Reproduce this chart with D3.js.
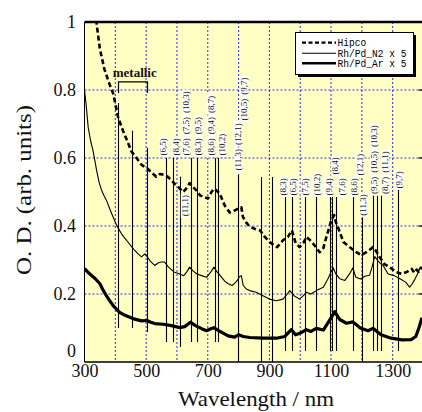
<!DOCTYPE html>
<html><head><meta charset="utf-8">
<script src="https://cdn.jsdelivr.net/npm/d3@7"></script>
<style>body{margin:0;background:#fff}svg{display:block}</style>
</head><body>
<svg id="c" width="422" height="412"></svg>
<script>
// ---------------- data ----------------
const hipcoNm = [335,340,350,365,380,393,409,425,441,452,469,485,503,520,533,545,560,570,582,595,604,620,630,641,652,663,675,685,701,712,720,728,739,755,771,780,790,800,809,814,825,836,852,870,885,901,915,925,944,960,973,985,998,1010,1020,1030,1042,1063,1075,1085,1101,1110,1116,1124,1140,1160,1182,1198,1215,1230,1236,1245,1258,1273,1290,1310,1330,1346,1362,1370,1378,1385,1395];
const hipcoOD = [1.03,0.99,0.92,0.86,0.82,0.79,0.72,0.68,0.645,0.62,0.60,0.58,0.57,0.555,0.545,0.553,0.55,0.545,0.535,0.522,0.515,0.50,0.51,0.526,0.515,0.505,0.49,0.486,0.481,0.50,0.51,0.505,0.495,0.46,0.44,0.442,0.447,0.452,0.455,0.427,0.41,0.398,0.392,0.387,0.368,0.353,0.343,0.338,0.358,0.368,0.387,0.35,0.338,0.35,0.368,0.36,0.348,0.323,0.335,0.368,0.417,0.432,0.41,0.393,0.353,0.338,0.323,0.314,0.323,0.333,0.338,0.328,0.308,0.288,0.279,0.265,0.259,0.265,0.274,0.262,0.272,0.265,0.28];

const n2Nm = [300,305,312,320,328,333,339,347,355,363,371,380,388,396,404,412,420,430,441,452,463,474,485,496,503,515,528,540,550,560,572,590,605,622,632,641,652,665,680,696,710,720,730,740,755,766,779,788,796,802,809,815,825,836,857,879,900,923,944,958,966,980,998,1010,1020,1035,1052,1075,1090,1100,1107,1115,1128,1145,1160,1171,1180,1195,1210,1225,1233,1242,1250,1260,1269,1285,1305,1325,1342,1355,1362,1370,1380,1390];
const n2OD = [0.80,0.76,0.69,0.65,0.62,0.595,0.565,0.53,0.506,0.49,0.476,0.455,0.437,0.42,0.402,0.39,0.377,0.365,0.353,0.34,0.328,0.318,0.309,0.318,0.31,0.295,0.284,0.292,0.294,0.294,0.28,0.265,0.26,0.254,0.265,0.279,0.268,0.259,0.254,0.249,0.265,0.279,0.265,0.255,0.238,0.23,0.225,0.232,0.24,0.25,0.254,0.225,0.215,0.21,0.205,0.195,0.185,0.18,0.185,0.2,0.21,0.195,0.185,0.195,0.205,0.2,0.21,0.22,0.245,0.265,0.277,0.26,0.245,0.24,0.259,0.277,0.25,0.244,0.252,0.255,0.279,0.31,0.30,0.29,0.284,0.259,0.254,0.244,0.235,0.22,0.228,0.24,0.258,0.28];

const arNm = [300,310,322,335,350,360,371,382,393,404,414,430,441,463,485,503,515,528,555,582,609,625,644,660,680,696,710,720,735,750,766,787,800,815,836,879,923,950,960,971,985,1000,1020,1035,1052,1075,1096,1112,1128,1150,1171,1195,1220,1236,1262,1295,1330,1360,1375,1385,1395];
const arOD = [0.275,0.265,0.255,0.245,0.23,0.212,0.195,0.18,0.166,0.155,0.146,0.138,0.134,0.126,0.121,0.122,0.117,0.113,0.111,0.107,0.101,0.104,0.117,0.107,0.098,0.092,0.098,0.101,0.092,0.085,0.077,0.073,0.08,0.075,0.072,0.07,0.07,0.075,0.085,0.095,0.08,0.085,0.095,0.09,0.099,0.094,0.124,0.148,0.125,0.114,0.118,0.10,0.092,0.099,0.08,0.07,0.065,0.066,0.075,0.10,0.13];

// assignment lines (wavelength, upper and lower O.D. ends)
const assignNm     = [409,455,504,563,586,610,644,665,722,732,797,872,909,951,974,1017,1050,1097,1104,1116,1172,1199,1237,1248,1262,1318];
const assignTop    = [0.762,0.68,0.63,0.60,0.60,0.545,0.60,0.60,0.60,0.60,0.55,0.544,0.544,0.485,0.485,0.485,0.485,0.485,0.485,0.485,0.485,0.426,0.49,0.49,0.49,0.506];
const assignBottom = [0.10,0.10,0.088,0.059,0.059,0.044,0.059,0.059,0.059,0.059,0,0,0,0.032,0.032,0.032,0.032,0.032,0.032,0.032,0.032,0,0.032,0.032,0.032,0.032];

// chirality label columns: wavelength, O.D. of column base, names bottom-up
const labelNm   = [556,597,626,629,668,709,746,798,817,944,976,1015,1053,1092,1114,1134,1173,1194,1205,1239,1275,1319];
const labelBase = [0.603,0.603,0.424,0.603,0.603,0.603,0.603,0.559,0.706,0.485,0.485,0.485,0.485,0.485,0.547,0.485,0.485,0.544,0.426,0.49,0.49,0.506];
const labelNames = [["(6,5)"],["(8,4)"],["(11,1)"],["(7,6)","(7,5)","(10,3)"],["(8,3)","(9,5)"],["(8,6)","(9,4)","(8,7)"],["(10,2)"],["(11,3)","(12,1)"],["(10,5)","(9,7)"],
  ["(8,3)"],["(6,5)"],["(7,5)"],["(10,2)"],["(9,4)"],["(8,4)"],["(7,6)"],["(8,6)"],["(12,1)"],["(11,3)"],["(9,5)","(10,5)","(10,3)"],["(8,7)","(11,1)"],["(9,7)"]];

const metallicNm = [409,504];
const metallicOD = [0.791,0.824];

const xTicks = [300,500,700,900,1100,1300];
const xGrid = [400,500,600,700,800,900,1000,1100,1200,1300];
const yTicks = [0,0.2,0.4,0.6,0.8,1];
const yTickLabels = ["0","0.2","0.4","0.6","0.8","1"];
const yGrid = [0.2,0.4,0.6,0.8];
const legendNames = ["Hipco","Rh/Pd_N2 x 5","Rh/Pd_Ar x 5"];

// ---------------- drawing ----------------
const svg = d3.select("#c");
const L = 84.5, R = 423.5, T = 22, B = 362;
const x = d3.scaleLinear().domain([300,1400]).range([L,R]);
const y = d3.scaleLinear().domain([0,1]).range([B,T]);
const serif = "'Liberation Serif','Times New Roman',serif";

svg.append("defs").append("clipPath").attr("id","clip")
  .append("rect").attr("x",L).attr("y",T).attr("width",R-L).attr("height",B-T);

svg.append("rect").attr("x",L).attr("y",T).attr("width",R-L).attr("height",B-T).attr("fill","#FFFFC4");

const plot = svg.append("g").attr("clip-path","url(#clip)");

// grid
plot.selectAll(".gx").data(xGrid).enter().append("line")
  .attr("x1",d=>x(d)).attr("x2",d=>x(d)).attr("y1",T).attr("y2",B)
  .attr("stroke","#2a2aff").attr("stroke-width",1).attr("stroke-dasharray","2,2");
plot.selectAll(".gy").data(yGrid).enter().append("line")
  .attr("x1",L).attr("x2",R).attr("y1",d=>y(d)).attr("y2",d=>y(d))
  .attr("stroke","#2a2aff").attr("stroke-width",1).attr("stroke-dasharray","2,2");

// assignment lines
plot.selectAll(".as").data(assignNm).enter().append("line")
  .attr("x1",d=>Math.round(x(d))+0.5).attr("x2",d=>Math.round(x(d))+0.5)
  .attr("y1",(d,i)=>y(assignTop[i])).attr("y2",(d,i)=>y(assignBottom[i]))
  .attr("stroke","#000").attr("stroke-width",1.1);

// curves
const line = d3.line().x(d=>x(d[0])).y(d=>y(d[1]));
const ser = [
  {nm:arNm, od:arOD, w:3.2, dash:null},
  {nm:n2Nm, od:n2OD, w:1.1, dash:null},
  {nm:hipcoNm, od:hipcoOD, w:2.6, dash:"5,3"}
];
ser.forEach(s=>{
  plot.append("path").datum(s.nm.map((v,i)=>[v,s.od[i]]))
    .attr("d",line).attr("fill","none").attr("stroke","#000")
    .attr("stroke-width",s.w).attr("stroke-linejoin","round")
    .attr("stroke-dasharray",s.dash);
});

// chirality labels
const lab = svg.append("g");
labelNm.forEach((nm,i)=>{
  let yb = y(labelBase[i]);
  const cx = x(nm);
  labelNames[i].forEach(name=>{
    const g = lab.append("g");
    const r = g.append("rect");
    const t = g.append("text").text(name)
      .attr("font-family",serif).attr("font-size",9).attr("fill","#111")
      .attr("text-anchor","middle");
    const len = t.node().getComputedTextLength();
    const h = len + 3;
    const cy = yb - h/2;
    t.attr("transform",`translate(${cx+3},${cy}) rotate(-90)`);
    r.attr("x",cx-4.2).attr("y",yb-h).attr("width",8.4).attr("height",h).attr("fill","#fff");
    yb -= h + 1;
  });
});

// metallic bracket
svg.append("path")
  .attr("d",`M${Math.round(x(metallicNm[0]))+0.5},${y(metallicOD[0])}V${y(metallicOD[1])}H${Math.round(x(metallicNm[1]))+0.5}V${y(metallicOD[0])}`)
  .attr("fill","none").attr("stroke","#000").attr("stroke-width",1.2);
svg.append("text").text("metallic")
  .attr("x",(x(metallicNm[0])+x(metallicNm[1]))/2+2).attr("y",y(metallicOD[1])-5)
  .attr("text-anchor","middle").attr("font-family",serif).attr("font-weight","bold").attr("font-size",13).attr("fill","#111");

// frame
svg.append("line").attr("x1",L).attr("x2",R).attr("y1",T).attr("y2",T).attr("stroke","#000").attr("stroke-width",2.5);
svg.append("line").attr("x1",L).attr("x2",R).attr("y1",B).attr("y2",B).attr("stroke","#000").attr("stroke-width",1.5);
svg.append("line").attr("x1",L).attr("x2",L).attr("y1",T).attr("y2",B).attr("stroke","#000").attr("stroke-width",1);
svg.append("line").attr("x1",R).attr("x2",R).attr("y1",T).attr("y2",B).attr("stroke","#000").attr("stroke-width",1);
svg.selectAll(".rt").data(yGrid).enter().append("line")
  .attr("x1",R-5).attr("x2",R).attr("y1",d=>y(d)).attr("y2",d=>y(d)).attr("stroke","#000").attr("stroke-width",1.2);

// axes
const ya = svg.append("g").attr("transform",`translate(${L},0)`)
  .call(d3.axisLeft(y).tickValues(yTicks).tickFormat((d,i)=>yTickLabels[i]).tickSize(0).tickPadding(8.5));
ya.select(".domain").remove();
ya.selectAll("text").attr("font-family",serif).attr("font-size",18).attr("fill","#111")
  .attr("dy",d=>d===0?"-0.3em":"0.32em");

const xa = svg.append("g").attr("transform",`translate(0,${B})`)
  .call(d3.axisBottom(x).tickValues(xTicks).tickFormat(d3.format("d")).tickSize(0).tickPadding(2));
xa.select(".domain").remove();
xa.selectAll("text").attr("font-family",serif).attr("font-size",18).attr("fill","#111");

svg.append("text").text("Wavelength / nm").attr("x",256).attr("y",406)
  .attr("text-anchor","middle").attr("font-family",serif).attr("font-size",22).attr("fill","#111")
  .attr("textLength",156).attr("lengthAdjust","spacingAndGlyphs");
svg.append("text").text("O. D. (arb. units)")
  .attr("transform",`translate(31,190) rotate(-90)`)
  .attr("text-anchor","middle").attr("font-family",serif).attr("font-size",22).attr("fill","#111")
  .attr("textLength",170).attr("lengthAdjust","spacingAndGlyphs");

// legend
const lg = svg.append("g");
lg.append("rect").attr("x",298).attr("y",35).attr("width",118).attr("height",42).attr("fill","#000");
lg.append("rect").attr("x",295.5).attr("y",32.5).attr("width",118).attr("height",42).attr("fill","#fff").attr("stroke","#000").attr("stroke-width",1);
const lgW = [2.2,1.1,2.6], lgD = ["4,2.5",null,null], lgY = [42.7,53.3,63.3];
legendNames.forEach((n,i)=>{
  lg.append("line").attr("x1",302).attr("x2",336).attr("y1",lgY[i]).attr("y2",lgY[i])
    .attr("stroke","#000").attr("stroke-width",lgW[i]).attr("stroke-dasharray",lgD[i]);
  const t = lg.append("text").text(n).attr("x",337.5).attr("y",lgY[i]+3.5)
    .attr("font-family","'Liberation Mono','DejaVu Sans Mono',monospace").attr("font-size",10).attr("fill","#000");
  t.attr("textLength", n.length*5.75).attr("lengthAdjust","spacingAndGlyphs");
});
</script>
</body></html>
